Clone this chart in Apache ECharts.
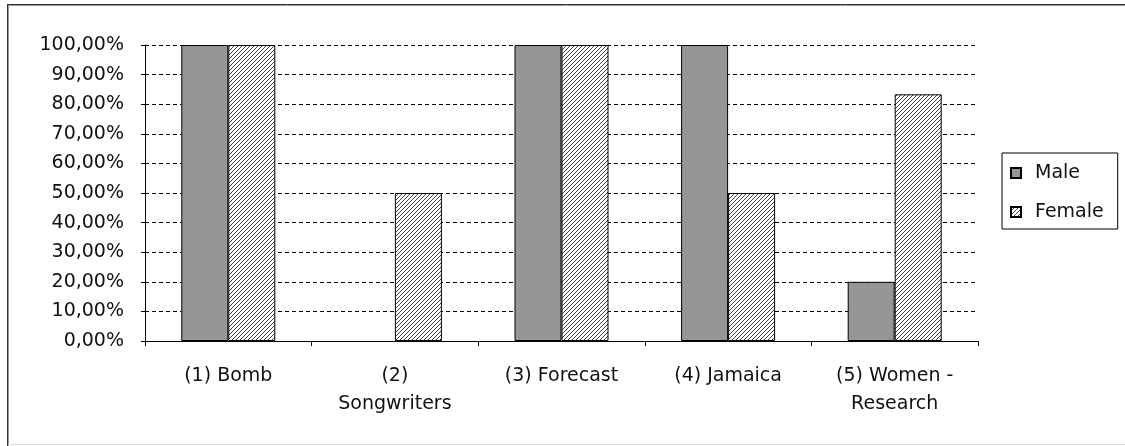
<!DOCTYPE html>
<html>
<head>
<meta charset="utf-8">
<script src="https://cdn.jsdelivr.net/npm/echarts@6/dist/echarts.min.js"></script>
<style>
  html, body { margin: 0; padding: 0; background: #fff; }
  #chart { width: 1125px; height: 446px; }
</style>
</head>
<body>
<div id="chart"></div>
<script>
const categories = ['(1) Bomb', '(2)\nSongwriters', '(3) Forecast', '(4) Jamaica', '(5) Women -\nResearch'];
const maleValues = [100, 0, 100, 100, 20];
const femaleValues = [100, 50, 100, 50, 83.33];
const seriesNames = ['Male', 'Female'];
const yTickValues = [0, 10, 20, 30, 40, 50, 60, 70, 80, 90, 100];

const FONT = 'DejaVu Sans';

// Hatch pattern "////"
function makeHatch() {
  const c = document.createElement('canvas');
  c.width = 4; c.height = 4;
  const ctx = c.getContext('2d');
  ctx.fillStyle = '#ffffff';
  ctx.fillRect(0, 0, 4, 4);
  ctx.fillStyle = '#444444';
  for (let i = 0; i < 4; i++) {
    ctx.fillRect(i, 3 - i, 1, 1);
  }
  return c;
}
const hatch = makeHatch();

// zero-height bars get no outline (as in the reference)
function toBarData(values) {
  return values.map(function (v) {
    return v === 0 ? { value: v, itemStyle: { borderWidth: 0 } } : v;
  });
}

const chart = echarts.init(document.getElementById('chart'), null, { renderer: 'canvas' });

const option = {
  animation: false,
  backgroundColor: '#ffffff',
  textStyle: { fontFamily: FONT, color: '#111' },
  grid: { left: 145, right: 147, top: 45, bottom: 105, containLabel: false },
  legend: {
    orient: 'vertical',
    left: 1002,
    top: 153,
    padding: [10, 14, 7, 8],
    itemGap: 19,
    itemWidth: 10,
    itemHeight: 10,
    icon: 'rect',
    borderColor: '#000',
    borderWidth: 1,
    data: seriesNames,
    textStyle: { fontFamily: FONT, fontSize: 19, color: '#111', lineHeight: 20, padding: [0, 0, 0, 9] }
  },
  xAxis: {
    type: 'category',
    data: categories,
    axisLine: { lineStyle: { color: '#000', width: 1 } },
    axisTick: { show: true, length: 5, lineStyle: { color: '#000' } },
    axisLabel: { fontFamily: FONT, fontSize: 19, color: '#111', margin: 21, lineHeight: 28, interval: 0 },
    splitLine: { show: false }
  },
  yAxis: {
    type: 'value',
    min: 0,
    max: 100,
    interval: 10,
    axisLine: { show: true, lineStyle: { color: '#000', width: 1 } },
    axisTick: { show: true, length: 4, lineStyle: { color: '#000' } },
    axisLabel: {
      fontFamily: FONT, fontSize: 19, color: '#111', margin: 21,
      formatter: function (v) {
        return yTickValues.indexOf(v) >= 0 ? v.toFixed(2).replace('.', ',') + '%' : '';
      }
    },
    splitLine: { show: true, lineStyle: { color: '#000', type: [4, 3], width: 1 } }
  },
  series: [
    {
      name: seriesNames[0],
      type: 'bar',
      data: toBarData(maleValues),
      barWidth: 47,
      barGap: '0%',
      itemStyle: { color: '#969696', borderColor: '#000', borderWidth: 1 }
    },
    {
      name: seriesNames[1],
      type: 'bar',
      data: toBarData(femaleValues),
      barWidth: 47,
      barGap: '0%',
      itemStyle: { color: { image: hatch, repeat: 'repeat' }, borderColor: '#000', borderWidth: 1 }
    }
  ],
  graphic: [
    { type: 'line', shape: { x1: 8, y1: 4.5, x2: 1125, y2: 4.5 }, style: { stroke: '#333', lineWidth: 1 }, silent: true },
    { type: 'line', shape: { x1: 8, y1: 5.5, x2: 1125, y2: 5.5 }, style: { stroke: '#999', lineWidth: 1 }, silent: true },
    { type: 'line', shape: { x1: 7.5, y1: 4, x2: 7.5, y2: 446 }, style: { stroke: '#333', lineWidth: 1 }, silent: true },
    { type: 'line', shape: { x1: 8.5, y1: 5, x2: 8.5, y2: 446 }, style: { stroke: '#999', lineWidth: 1 }, silent: true },
    { type: 'line', shape: { x1: 8, y1: 444.5, x2: 1125, y2: 444.5 }, style: { stroke: '#ddd', lineWidth: 1 }, silent: true }
  ]
};

chart.setOption(option);
</script>
</body>
</html>
